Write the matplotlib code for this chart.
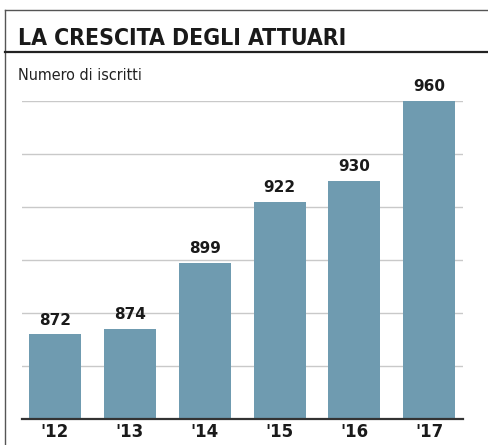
import matplotlib
matplotlib.use("Agg")
import matplotlib.pyplot as plt
from matplotlib.lines import Line2D

# data
years = ["'12", "'13", "'14", "'15", "'16", "'17"]
iscritti = [872, 874, 899, 922, 930, 960]
grid_vals = [860, 880, 900, 920, 940, 960]

BAR_COLOR = "#6f9bb0"


def main():
    fig = plt.figure(figsize=(4.88, 4.45), dpi=100)
    fig.patch.set_facecolor("white")

    # frame lines of the box (top, left, under title)
    fig.add_artist(Line2D([5 / 488, 1], [1 - 10 / 445] * 2, color="#555555", lw=1.0))
    fig.add_artist(Line2D([5 / 488] * 2, [0, 1 - 10 / 445], color="#555555", lw=1.0))
    fig.add_artist(Line2D([5 / 488, 1], [1 - 52 / 445] * 2, color="#222222", lw=1.6))

    fig.text(18 / 488, 1 - 45 / 445, "LA CRESCITA DEGLI ATTUARI", family="DejaVu Sans",
             fontstretch="condensed", fontweight="bold", fontsize=16.5, color="#1a1a1a",
             va="baseline")
    fig.text(18 / 488, 1 - 80 / 445, "Numero di iscritti", family="DejaVu Sans",
             fontstretch="condensed", fontsize=11.5, color="#222222", va="baseline")

    ax = fig.add_axes([22 / 488, 1 - 419 / 445, 441 / 488, 318 / 445])
    x = range(len(years))
    bars = ax.bar(x, iscritti, width=0.695, color=BAR_COLOR, zorder=2)

    ax.set_ylim(840, 960)
    ax.set_xlim(-0.44, 5.45)
    for g in grid_vals:
        ax.axhline(g, color="#c9c9c9", lw=1.0, zorder=1)
    ax.axhline(840, color="#333333", lw=1.6, zorder=3, clip_on=False)

    for b, v in zip(bars, iscritti):
        ax.text(b.get_x() + b.get_width() / 2, v + 2.5, str(v), ha="center", va="bottom",
                fontsize=11, fontweight="heavy", color="#1a1a1a", family="DejaVu Sans")

    ax.set_xticks(list(x))
    ax.set_xticklabels(years, fontsize=12, fontweight="bold", color="#1a1a1a")
    ax.tick_params(axis="x", length=0, pad=3)
    ax.set_yticks([])
    for s in ax.spines.values():
        s.set_visible(False)
    ax.patch.set_alpha(0)

    fig.savefig("out.png", dpi=100, facecolor="white")


if __name__ == "__main__":
    main()
